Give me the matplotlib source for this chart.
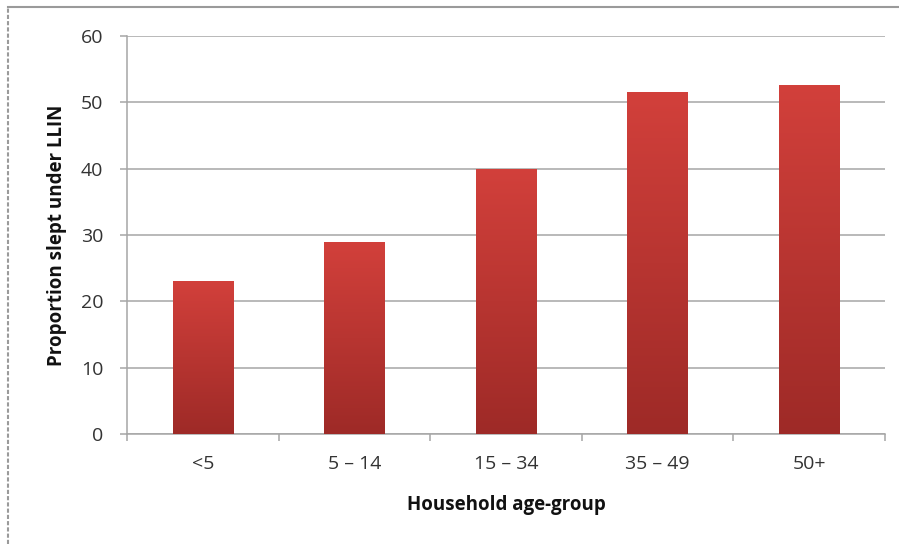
import numpy as np
import matplotlib.pyplot as plt
from matplotlib.colors import LinearSegmentedColormap
from matplotlib.lines import Line2D

# Share of household members who slept under an LLIN, by age group
age_groups = ["<5", "5 \u2013 14", "15 \u2013 34", "35 \u2013 49", "50+"]
proportion = [23.1, 28.9, 40.0, 51.6, 52.6]
y_ticks = [0, 10, 20, 30, 40, 50, 60]

plt.rcParams['font.family'] = ['Open Sans', 'DejaVu Sans']

fig = plt.figure(figsize=(8.99, 5.44), dpi=100)
ax = fig.add_axes([0.1413, 0.2022, 0.8431, 0.7316])

x = np.arange(len(age_groups))
bars = ax.bar(x, proportion, width=0.4, color='none', edgecolor='none', zorder=3)

# vertical red gradient inside each bar, lighter at the top
red_grad = LinearSegmentedColormap.from_list("red_grad", ["#9E2A27", "#D2403B"])
grad = np.linspace(0, 1, 256).reshape(-1, 1)
for b in bars:
    x0, y0 = b.get_x(), b.get_y()
    im = ax.imshow(grad, extent=[x0, x0 + b.get_width(), y0, y0 + b.get_height()],
                   origin='lower', aspect='auto', cmap=red_grad, zorder=3)
    im.set_clip_path(b)

ax.set_xlim(-0.5, len(age_groups) - 0.5)
ax.set_ylim(0, 60)
ax.set_yticks(y_ticks)
ax.grid(axis='y', color='#A6A6A6', linewidth=1.1, zorder=0)
ax.set_axisbelow(True)

# category labels centred under bars, tick marks on the boundaries
ax.set_xticks(x)
ax.set_xticklabels(age_groups)
ax.set_xticks(np.arange(len(age_groups) + 1) - 0.5, minor=True)
ax.tick_params(axis='x', which='major', length=0, pad=15, labelsize=14, labelcolor='#333333')
ax.tick_params(axis='x', which='minor', length=5, color='#A6A6A6', width=1.1)
ax.tick_params(axis='y', length=5, color='#A6A6A6', width=1.1, pad=12,
               labelsize=14, labelcolor='#333333')

for side in ['top', 'right']:
    ax.spines[side].set_visible(False)
for side in ['left', 'bottom']:
    ax.spines[side].set_color('#A6A6A6')
    ax.spines[side].set_linewidth(1.1)

ax.set_xlabel("Household age-group", fontsize=13.5, fontweight='bold', labelpad=16, color='#111111')
ax.set_ylabel("Proportion slept under LLIN", fontsize=13.5, fontweight='bold', labelpad=10, color='#111111')

# outer frame along top and left edges
fig.add_artist(Line2D([0.009, 1.0], [0.987, 0.987], transform=fig.transFigure,
                      color='#9A9A9A', linewidth=1.5))
fig.add_artist(Line2D([0.009, 0.009], [0.0, 0.987], transform=fig.transFigure,
                      color='#9A9A9A', linewidth=1.5, linestyle=(0, (2, 1))))

fig.savefig("out.png", dpi=100)
